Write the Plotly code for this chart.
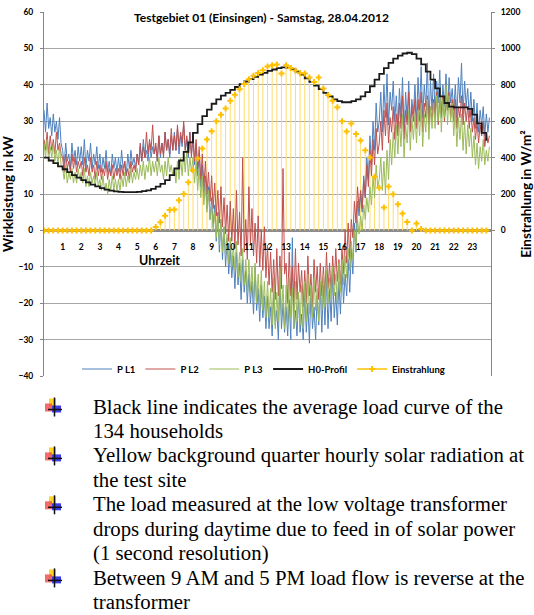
import plotly.graph_objects as go

# ---------------- data ----------------
hour_ticks = list(range(1, 24))

# H0 profile, quarter-hourly (kW)
h0_profile = [
    20.0, 19.2, 18.5, 17.6, 16.8, 16.0, 15.2, 14.5, 13.8, 13.2, 12.6, 12.1,
    11.6, 11.2, 10.9, 10.7, 10.6, 10.5, 10.5, 10.5, 10.6, 10.8, 11.0, 11.4,
    12.0, 12.8, 13.8, 15.2, 17.0, 19.2, 21.6, 24.2, 26.8, 29.2, 31.4, 33.2,
    34.8, 36.0, 37.0, 37.8, 38.6, 39.4, 40.2, 40.9, 41.6, 42.2, 42.8, 43.3,
    43.8, 44.2, 44.6, 44.8, 44.7, 44.3, 43.6, 42.8, 41.8, 40.8, 39.8, 38.8,
    37.8, 36.8, 36.0, 35.5, 35.2, 35.2, 35.5, 36.0, 36.8, 38.0, 39.6, 41.4,
    43.0, 44.6, 46.0, 47.2, 48.0, 48.6, 48.8, 48.4, 47.2, 45.6, 43.6, 41.4,
    39.0, 36.8, 35.0, 34.0, 33.8, 33.8, 33.8, 33.4, 31.8, 29.4, 26.8, 24.6,
]

# solar radiation, quarter-hourly (W/m2)
einstrahlung = [
    0, 0, 0, 0, 0, 0, 0, 0, 0, 0, 0, 0,
    0, 0, 0, 0, 0, 0, 0, 0, 0, 0, 0, 0,
    18, 45, 80, 112, 115, 165, 200, 265, 330, 395, 450, 500,
    545, 600, 635, 670, 712, 745, 775, 805, 830, 850, 865, 880,
    900, 908, 912, 862, 908, 892, 878, 864, 862, 840, 815, 840,
    780, 742, 712, 676, 600, 544, 588, 530, 494, 440, 400, 295,
    235, 126, 241, 198, 143, 93, 46, 0, 38, 8, 0, 0,
    0, 0, 0, 0, 0, 0, 0, 0, 0, 0, 0, 0,
]

# phase loads, 5-minute samples (kW), one row per hour
p_l1 = [
    33, 27, 35, 28, 31, 26, 32, 27, 30, 25, 31, 24,
    22, 18, 24, 19, 21, 17, 24, 19, 22, 18, 23, 19,
    23, 18, 25, 17, 22, 19, 24, 17, 21, 18, 23, 17,
    21, 16, 20, 17, 22, 16, 19, 15, 21, 17, 20, 16,
    20, 16, 22, 17, 19, 15, 21, 17, 22, 18, 20, 17,
    21, 18, 23, 19, 25, 20, 22, 19, 24, 20, 23, 21,
    23, 19, 26, 20, 24, 21, 27, 22, 25, 20, 26, 22,
    27, 22, 28, 21, 26, 23, 29, 22, 25, 20, 27, 21,
    25, 18, 24, 15, 21, 12, 18, 9, 15, 6, 12, 3,
    9, 1, 7, -3, 5, -6, 3, -8, 1, -10, -2, -12,
    -5, -13, -7, -16, -6, -15, -9, -19, -8, -17, -11, -20,
    -12, -20, -14, -23, -10, -22, -16, -25, -15, -24, -18, -27,
    -18, -27, -21, -29, -17, -26, -22, -30, -13, -27, -20, -28,
    -21, -29, -19, -30, -2, -27, -22, -29, -18, -28, -23, -30,
    -17, -28, -20, -31, -16, -27, -21, -30, -18, -26, -15, -28,
    -15, -26, -13, -27, -16, -25, -12, -24, -17, -26, -14, -23,
    -10, -20, -12, -18, -8, -17, -5, -12, 2, -6, 8, 4,
    10, 5, 15, 9, 20, 14, 26, 18, 30, 22, 35, 27,
    30, 38, 27, 40, 31, 43, 29, 38, 33, 41, 30, 37,
    28, 39, 31, 42, 27, 38, 30, 41, 28, 36, 32, 40,
    30, 42, 33, 45, 31, 40, 34, 46, 29, 41, 33, 43,
    32, 41, 35, 44, 31, 40, 34, 43, 33, 42, 35, 39,
    33, 40, 31, 42, 35, 46, 32, 41, 34, 39, 31, 38,
    30, 36, 28, 35, 27, 33, 29, 34, 26, 32, 27, 31,
]
p_l2 = [
    25, 22, 27, 21, 26, 22, 25, 21, 27, 22, 24, 21,
    20, 16, 21, 17, 19, 16, 21, 17, 20, 16, 19, 17,
    19, 15, 20, 16, 18, 15, 20, 16, 18, 14, 19, 15,
    18, 14, 17, 15, 19, 14, 17, 15, 18, 14, 17, 15,
    17, 14, 18, 15, 19, 15, 17, 14, 19, 16, 18, 16,
    21, 18, 24, 19, 23, 20, 27, 21, 25, 22, 29, 21,
    24, 19, 26, 21, 24, 20, 27, 22, 25, 21, 28, 22,
    26, 22, 29, 23, 27, 24, 30, 22, 26, 21, 27, 20,
    27, 19, 25, 17, 23, 14, 21, 12, 19, 10, 16, 8,
    15, 6, 13, 4, 11, 2, 12, 1, 9, -1, 7, -3,
    8, -3, 6, -5, 11, -4, 5, -7, 20, -6, 3, -8,
    12, -4, 6, -7, 2, -9, 4, -10, 0, -11, 1, -13,
    -4, -15, -6, -17, -8, -19, -5, -18, -7, -16, 17, -12,
    -9, -20, -6, -18, -10, -21, -5, -19, -9, -17, -11, -21,
    -11, -20, -7, -18, -12, -21, -8, -17, -10, -19, -9, -18,
    -10, -18, -6, -16, -9, -17, -7, -15, -5, -14, -8, -15,
    -5, -12, 0, -9, 2, -8, 3, -2, 8, 2, 12, 6,
    11, 6, 14, 9, 18, 12, 22, 15, 25, 18, 28, 21,
    24, 30, 22, 33, 26, 35, 24, 31, 27, 34, 25, 32,
    26, 35, 28, 37, 25, 33, 29, 38, 27, 34, 30, 36,
    28, 36, 30, 38, 27, 35, 31, 37, 29, 34, 30, 36,
    31, 38, 29, 36, 32, 37, 30, 35, 33, 38, 31, 36,
    30, 36, 28, 34, 31, 37, 29, 35, 30, 34, 28, 33,
    27, 31, 25, 30, 24, 29, 26, 30, 23, 27, 24, 26,
]
p_l3 = [
    24, 20, 25, 19, 23, 20, 24, 19, 22, 18, 23, 18,
    17, 14, 18, 13, 16, 14, 17, 13, 16, 13, 17, 14,
    16, 13, 17, 12, 15, 12, 16, 13, 15, 12, 16, 12,
    14, 11, 15, 11, 13, 10, 14, 11, 15, 11, 14, 11,
    14, 11, 15, 12, 16, 12, 15, 13, 17, 13, 16, 14,
    17, 14, 18, 15, 19, 14, 18, 16, 20, 15, 19, 16,
    19, 15, 20, 16, 18, 14, 19, 15, 20, 16, 18, 15,
    17, 13, 19, 14, 20, 15, 21, 16, 22, 15, 20, 16,
    20, 13, 19, 11, 17, 9, 15, 7, 13, 5, 11, 3,
    7, 0, 5, -2, 4, -4, 3, -6, 1, -7, -1, -9,
    -2, -10, -4, -11, -3, -13, -6, -14, -5, -15, -8, -17,
    -8, -17, -10, -19, -9, -20, -12, -21, -11, -22, -14, -24,
    -14, -24, -16, -26, -13, -27, -17, -25, -10, -24, -15, -27,
    -15, -26, -13, -24, -16, -27, -14, -25, -17, -26, -15, -27,
    -14, -25, -12, -23, -15, -24, -13, -22, -16, -25, -14, -22,
    -12, -21, -11, -20, -13, -19, -10, -18, -12, -20, -9, -17,
    -8, -15, -7, -13, -5, -11, -3, -8, 0, -5, 3, -1,
    4, 0, 7, 3, 9, 5, 12, 7, 15, 9, 18, 12,
    14, 20, 11, 19, 10, 22, 14, 25, 18, 27, 20, 29,
    21, 30, 23, 32, 20, 29, 24, 33, 22, 31, 25, 32,
    24, 33, 26, 35, 23, 32, 27, 36, 25, 34, 28, 35,
    28, 37, 30, 39, 27, 36, 31, 40, 29, 37, 30, 35,
    26, 33, 23, 31, 25, 32, 22, 30, 21, 29, 23, 28,
    20, 26, 18, 24, 17, 23, 19, 25, 18, 22, 19, 23,
]

bullets = [
    ["Black line indicates the average load curve of the", "134 households"],
    ["Yellow background quarter hourly solar radiation at", "the test site"],
    ["The load measured at the low voltage transformer",
     "drops during daytime due to feed in of solar power",
     "(1 second resolution)"],
    ["Between 9 AM and 5 PM load flow is reverse at the", "transformer"],
]

# ---------------- figure ----------------
W, H = 534, 615
L, R, T, B = 44, 43, 12, 239
PW, PH = W - L - R, H - T - B


def xp(px):
    return (px - L) / PW


def yp(py):
    return (H - B - py) / PH


t_q = [i * 0.25 for i in range(len(h0_profile))]
t_s = [i / 12 for i in range(len(p_l1))]

drop_x, drop_y = [], []
for t, r in zip(t_q, einstrahlung):
    if r > 0:
        drop_x += [t, t, None]
        drop_y += [0, r, None]

ui = dict(family="Lato", size=8.5, color="#000000", weight="bold")

fig = go.Figure()
fig.add_trace(go.Scatter(x=drop_x, y=drop_y, mode="lines", yaxis="y",
                         line=dict(color="#FFDB6E", width=1),
                         showlegend=False, hoverinfo="skip"))
for name, vals, col in [("P L1", p_l1, "#4F81BD"),
                        ("P L2", p_l2, "#C0504D"),
                        ("P L3", p_l3, "#9BBB59")]:
    fig.add_trace(go.Scatter(x=t_s, y=vals, name=name, mode="lines", yaxis="y2",
                             line=dict(color=col, width=1)))
fig.add_trace(go.Scatter(x=t_q, y=h0_profile, name="H0-Profil", mode="lines",
                         yaxis="y2", line=dict(color="#1A1A1A", width=1.8, shape="hv")))
fig.add_trace(go.Scatter(x=t_q, y=einstrahlung, name="Einstrahlung", mode="markers",
                         yaxis="y3", marker=dict(symbol="cross", size=5, color="#FFC000"),
                         showlegend=False))
fig.add_trace(go.Scatter(x=[None], y=[None], name="Einstrahlung", mode="lines+markers",
                         yaxis="y3", line=dict(color="#FFC000", width=1.5),
                         marker=dict(symbol="cross", size=5, color="#FFC000")))

fig.update_layout(
    width=W, height=H,
    margin=dict(l=L, r=R, t=T, b=B, autoexpand=False),
    paper_bgcolor="white", plot_bgcolor="white",
    font=dict(family="Lato", color="#000000"),
    title=dict(text="Testgebiet 01 (Einsingen) - Samstag, 28.04.2012",
               x=261.5 / W, xanchor="center", y=1 - 18 / H, yanchor="middle",
               font=dict(family="Lato", size=12, weight="bold", color="#000000")),
    xaxis=dict(range=[0, 24], anchor="free", position=0.4, showgrid=False,
               zeroline=False, showline=False, tickvals=hour_ticks,
               ticktext=[str(h) for h in hour_ticks], ticks="outside", ticklen=8,
               tickcolor="rgba(0,0,0,0)", tickfont=ui),
    yaxis=dict(range=[-800, 1200], side="right", tickvals=list(range(0, 1201, 200)),
               showgrid=False, zeroline=False, showline=True, linecolor="#868686",
               linewidth=1, ticks="outside", ticklen=3, tickcolor="#868686",
               tickfont=ui, ticklabelstandoff=4,
               title=dict(text="Einstrahlung in W/m²", standoff=4,
                          font=dict(family="Lato", size=13.5, weight="bold"))),
    yaxis2=dict(range=[-40, 60], side="left", overlaying="y", dtick=10,
                showgrid=True, gridcolor="#A6A6A6", gridwidth=1,
                zeroline=True, zerolinecolor="#8C8C8C", zerolinewidth=3,
                showline=True, linecolor="#868686", linewidth=1,
                ticks="outside", ticklen=3, tickcolor="#868686",
                tickfont=ui, ticklabelstandoff=5,
                title=dict(text="Wirkleistung in kW", standoff=1,
                           font=dict(family="Lato", size=13.5, weight="bold"))),
    yaxis3=dict(range=[-800, 1200], overlaying="y", visible=False),
    legend=dict(orientation="h", x=xp(263.5), xanchor="center", y=yp(369), yanchor="middle",
                font=dict(family="Lato", size=9.5, weight="bold"), bgcolor="rgba(0,0,0,0)",
                itemwidth=30, tracegroupgap=0, traceorder="normal"),
    showlegend=True,
)

fig.add_annotation(text="Uhrzeit", xref="paper", yref="paper", x=xp(159), y=yp(260),
                   xanchor="center", yanchor="middle", showarrow=False,
                   font=dict(family="Lato", size=12.5, weight="bold", color="#000000"))

line_gap = 24.2
py = 406.5
for items in bullets:
    cy = py
    icon = [
        (49, cy - 8, 56, cy, "rgba(255,205,0,0.85)"),
        (45, cy - 3, 52, cy + 5, "rgba(240,70,70,0.8)"),
        (52, cy - 1, 61, cy + 6, "rgba(40,40,230,0.9)"),
    ]
    for x0, y0, x1, y1, c in icon:
        fig.add_shape(type="rect", xref="paper", yref="paper",
                      x0=xp(x0), x1=xp(x1), y0=yp(y1), y1=yp(y0),
                      fillcolor=c, line=dict(width=0))
    fig.add_shape(type="line", xref="paper", yref="paper", x0=xp(54.5), x1=xp(54.5),
                  y0=yp(cy + 10), y1=yp(cy - 9), line=dict(color="#101010", width=1.5))
    fig.add_shape(type="line", xref="paper", yref="paper", x0=xp(48), x1=xp(62),
                  y0=yp(cy + 3), y1=yp(cy + 3), line=dict(color="#101010", width=1.5))
    for txt in items:
        fig.add_annotation(text=txt, xref="paper", yref="paper", x=xp(91), y=yp(py),
                           xanchor="left", yanchor="middle", showarrow=False,
                           font=dict(family="Liberation Serif", size=20.8, color="#000000"))
        py += line_gap
    py += 0.5

fig.write_html("out.html", config={"displayModeBar": False},
               post_script="document.body.style.margin='0';document.body.style.overflow='hidden';")
